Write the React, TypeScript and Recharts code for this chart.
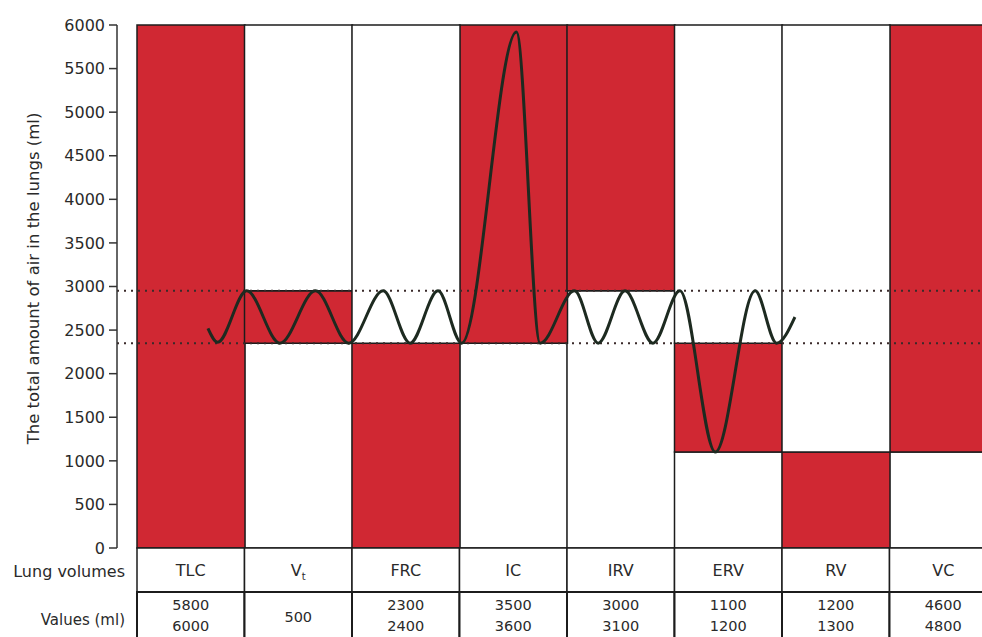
import React from 'react';
import { ComposedChart, Bar, Line, XAxis, YAxis, ReferenceLine } from 'recharts';

// ---- data ----
const categories = ['TLC', 'V', 'FRC', 'IC', 'IRV', 'ERV', 'RV', 'VC'];
const categorySub = ['', 't', '', '', '', '', '', ''];
const redLow = [0, 2350, 0, 2350, 2950, 1100, 0, 1100];
const redHigh = [6000, 2950, 2350, 6000, 6000, 2350, 1100, 6000];
const valuesTop = ['5800', '500', '2300', '3500', '3000', '1100', '1200', '4600'];
const valuesBottom = ['6000', '', '2400', '3600', '3100', '1200', '1300', '4800'];
const yTicks = [0, 500, 1000, 1500, 2000, 2500, 3000, 3500, 4000, 4500, 5000, 5500, 6000];
const Y_MAX = 6000;
const tidalLevels = [2350, 2950];
// breathing trace: position along the columns (column units) and volume (ml)
const breathX = [0.66, 0.75, 1.02, 1.33, 1.66, 1.97, 2.29, 2.54, 2.8, 3.02, 3.53, 3.75, 4.07, 4.29, 4.54, 4.8, 5.05, 5.38, 5.75, 5.95, 6.12];
const breathY = [2520, 2360, 2950, 2350, 2950, 2350, 2950, 2350, 2950, 2350, 5920, 2350, 2950, 2350, 2950, 2350, 2950, 1100, 2950, 2350, 2650];

const rowLabels = ['Lung volumes', 'Values (ml)'];

const barData = categories.map((name, i) => ({
  name,
  sub: categorySub[i],
  below: redLow[i],
  red: redHigh[i] - redLow[i],
  above: Y_MAX - redHigh[i],
  v1: valuesTop[i],
  v2: valuesBottom[i],
}));
const lineData = breathX.map((x, i) => ({ x, v: breathY[i] }));

// ---- style ----
const RED = '#d02833';
const INK = '#1c1c1c';
const TEXT = '#2a2a2a';
const FONT = '"DejaVu Sans", Verdana, sans-serif';
const CHART_W = 997;
const CHART_H = 637;
const Y_AXIS_W = 117;
const PAD_LEFT = 20;
const COL_W = (CHART_W - Y_AXIS_W - PAD_LEFT) / categories.length;
const ROW1_H = 44;
const ROW2_H = 60;

const TableTick = (props: any) => {
  const { x, y, index } = props;
  const d = barData[index];
  if (!d) return null;
  const left = x - COL_W / 2;
  return (
    <g>
      <rect x={left} y={y} width={COL_W} height={ROW1_H} fill="#fff" stroke={INK} strokeWidth={1.5} />
      <rect x={left} y={y + ROW1_H} width={COL_W} height={ROW2_H} fill="#fff" stroke={INK} strokeWidth={2} />
      <text x={x} y={y + 28} textAnchor="middle" fontSize={16} fill={TEXT} fontFamily={FONT}>
        {d.name}
        {d.sub ? (
          <tspan fontSize={10} dy={4}>
            {d.sub}
          </tspan>
        ) : null}
      </text>
      {d.v2 ? (
        <>
          <text x={x} y={y + 62} textAnchor="middle" fontSize={14.5} fill={TEXT} fontFamily={FONT}>
            {d.v1}
          </text>
          <text x={x} y={y + 83} textAnchor="middle" fontSize={14.5} fill={TEXT} fontFamily={FONT}>
            {d.v2}
          </text>
        </>
      ) : (
        <text x={x} y={y + 74} textAnchor="middle" fontSize={14.5} fill={TEXT} fontFamily={FONT}>
          {d.v1}
        </text>
      )}
      {index === 0 ? (
        <>
          <text x={left - 12} y={y + 29} textAnchor="end" fontSize={16} fill={TEXT} fontFamily={FONT}>
            {rowLabels[0]}
          </text>
          <text x={left - 12} y={y + 77} textAnchor="end" fontSize={15} fill={TEXT} fontFamily={FONT}>
            {rowLabels[1]}
          </text>
        </>
      ) : null}
    </g>
  );
};

const YTitle = (props: any) => {
  const vb = props.viewBox || { x: 0, y: 0, width: 0, height: 0 };
  const cx = vb.x + 33;
  const cy = vb.y + vb.height / 2 - 8;
  return (
    <text
      x={cx}
      y={cy}
      transform={`rotate(-90 ${cx} ${cy})`}
      textAnchor="middle"
      dominantBaseline="central"
      fontSize={16.5}
      fill={TEXT}
      fontFamily={FONT}
    >
      The total amount of air in the lungs (ml)
    </text>
  );
};

export default function App() {
  return (
    <div style={{ position: 'absolute', left: 0, top: 0, width: 982, height: 637, overflow: 'hidden', background: '#fff' }}>
      <ComposedChart
        width={CHART_W}
        height={CHART_H}
        data={barData}
        margin={{ top: 25, right: 0, bottom: 0, left: 0 }}
        barCategoryGap={0}
        barGap={0}
      >
        <XAxis
          xAxisId="cat"
          dataKey="name"
          type="category"
          height={89}
          padding={{ left: PAD_LEFT, right: 0 }}
          axisLine={false}
          tickLine={false}
          tickSize={0}
          tickMargin={0}
          interval={0}
          tick={<TableTick />}
        />
        <XAxis xAxisId="num" type="number" dataKey="x" domain={[0, categories.length]} hide padding={{ left: PAD_LEFT, right: 0 }} allowDataOverflow />
        <YAxis
          type="number"
          domain={[0, Y_MAX]}
          ticks={yTicks}
          interval={0}
          width={Y_AXIS_W}
          tickSize={8}
          tickMargin={4}
          axisLine={{ stroke: '#333', strokeWidth: 1.5 }}
          tickLine={{ stroke: '#333', strokeWidth: 1.5 }}
          tick={{ fontSize: 16, fill: TEXT, fontFamily: FONT }}
          label={{ content: <YTitle /> }}
        />
        <Bar xAxisId="cat" dataKey="below" stackId="s" fill="#fff" stroke={INK} strokeWidth={1.5} isAnimationActive={false} />
        <Bar xAxisId="cat" dataKey="red" stackId="s" fill={RED} stroke={INK} strokeWidth={1.5} isAnimationActive={false} />
        <Bar xAxisId="cat" dataKey="above" stackId="s" fill="#fff" stroke={INK} strokeWidth={1.5} isAnimationActive={false} />
        {tidalLevels.map((lv) => (
          <ReferenceLine key={lv} xAxisId="num" y={lv} stroke="#3a2a2a" strokeWidth={2} strokeDasharray="2 5" ifOverflow="extendDomain" />
        ))}
        <Line
          xAxisId="num"
          data={lineData}
          dataKey="v"
          type="monotone"
          stroke="#1d2a20"
          strokeWidth={3}
          dot={false}
          activeDot={false}
          isAnimationActive={false}
        />
      </ComposedChart>
    </div>
  );
}
